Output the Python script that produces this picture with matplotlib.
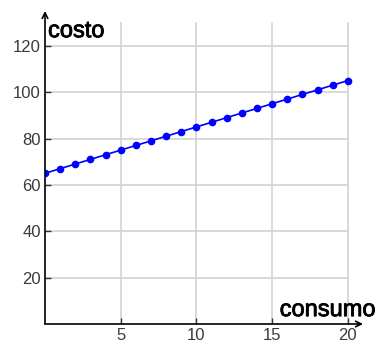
import numpy as np
import matplotlib.pyplot as plt
import matplotlib.patheffects as pe

# consumo (x) vs costo (y)
consumo = [0, 1, 2, 3, 4, 5, 6, 7, 8, 9, 10, 11, 12, 13, 14, 15, 16, 17, 18, 19, 20]
costo = [65, 67, 69, 71, 73, 75, 77, 79, 81, 83, 85, 87, 89, 91, 93, 95, 97, 99, 101, 103, 105]
xticks = [5, 10, 15, 20]
yticks = [20, 40, 60, 80, 100, 120]

plt.rcParams['font.family'] = ['Liberation Sans', 'DejaVu Sans']

fig = plt.figure(figsize=[3.78, 3.44], dpi=100)
ax = fig.add_axes([45 / 378, 20 / 344, 318 / 378, 313 / 344])
ax.set_xlim(0, 21)
ax.set_ylim(0, 135)

# grid only up to x=20, y=130
for x in xticks:
    ax.plot([x, x], [0, 130], color='#d3d3d3', lw=1.2, zorder=1)
for y in yticks:
    ax.plot([0, 20], [y, y], color='#d3d3d3', lw=1.2, zorder=1)

ax.plot(consumo, costo, color='#0000ff', lw=1.2, marker='o', ms=4.5, zorder=3)

for s in ax.spines.values():
    s.set_visible(False)
ax.annotate('', xy=(21, 0), xytext=(0, 0), annotation_clip=False,
            arrowprops=dict(arrowstyle='->', color='black', lw=1.2, shrinkA=0, shrinkB=0))
ax.annotate('', xy=(0, 135), xytext=(0, 0), annotation_clip=False,
            arrowprops=dict(arrowstyle='->', color='black', lw=1.2, shrinkA=0, shrinkB=0))

ax.set_xticks(xticks)
ax.set_yticks(yticks)
ax.tick_params(direction='in', length=4, width=1, color='#333333',
               labelsize=12, labelcolor='#3a3a3a', pad=3)

thick = [pe.withStroke(linewidth=0.6, foreground='black')]
ax.text(0.2, 123.7, 'costo', fontsize=17, va='baseline', ha='left', path_effects=thick)
ax.text(15.5, 3.4, 'consumo', fontsize=17, va='baseline', ha='left', path_effects=thick)

fig.savefig('out.png', dpi=100)
